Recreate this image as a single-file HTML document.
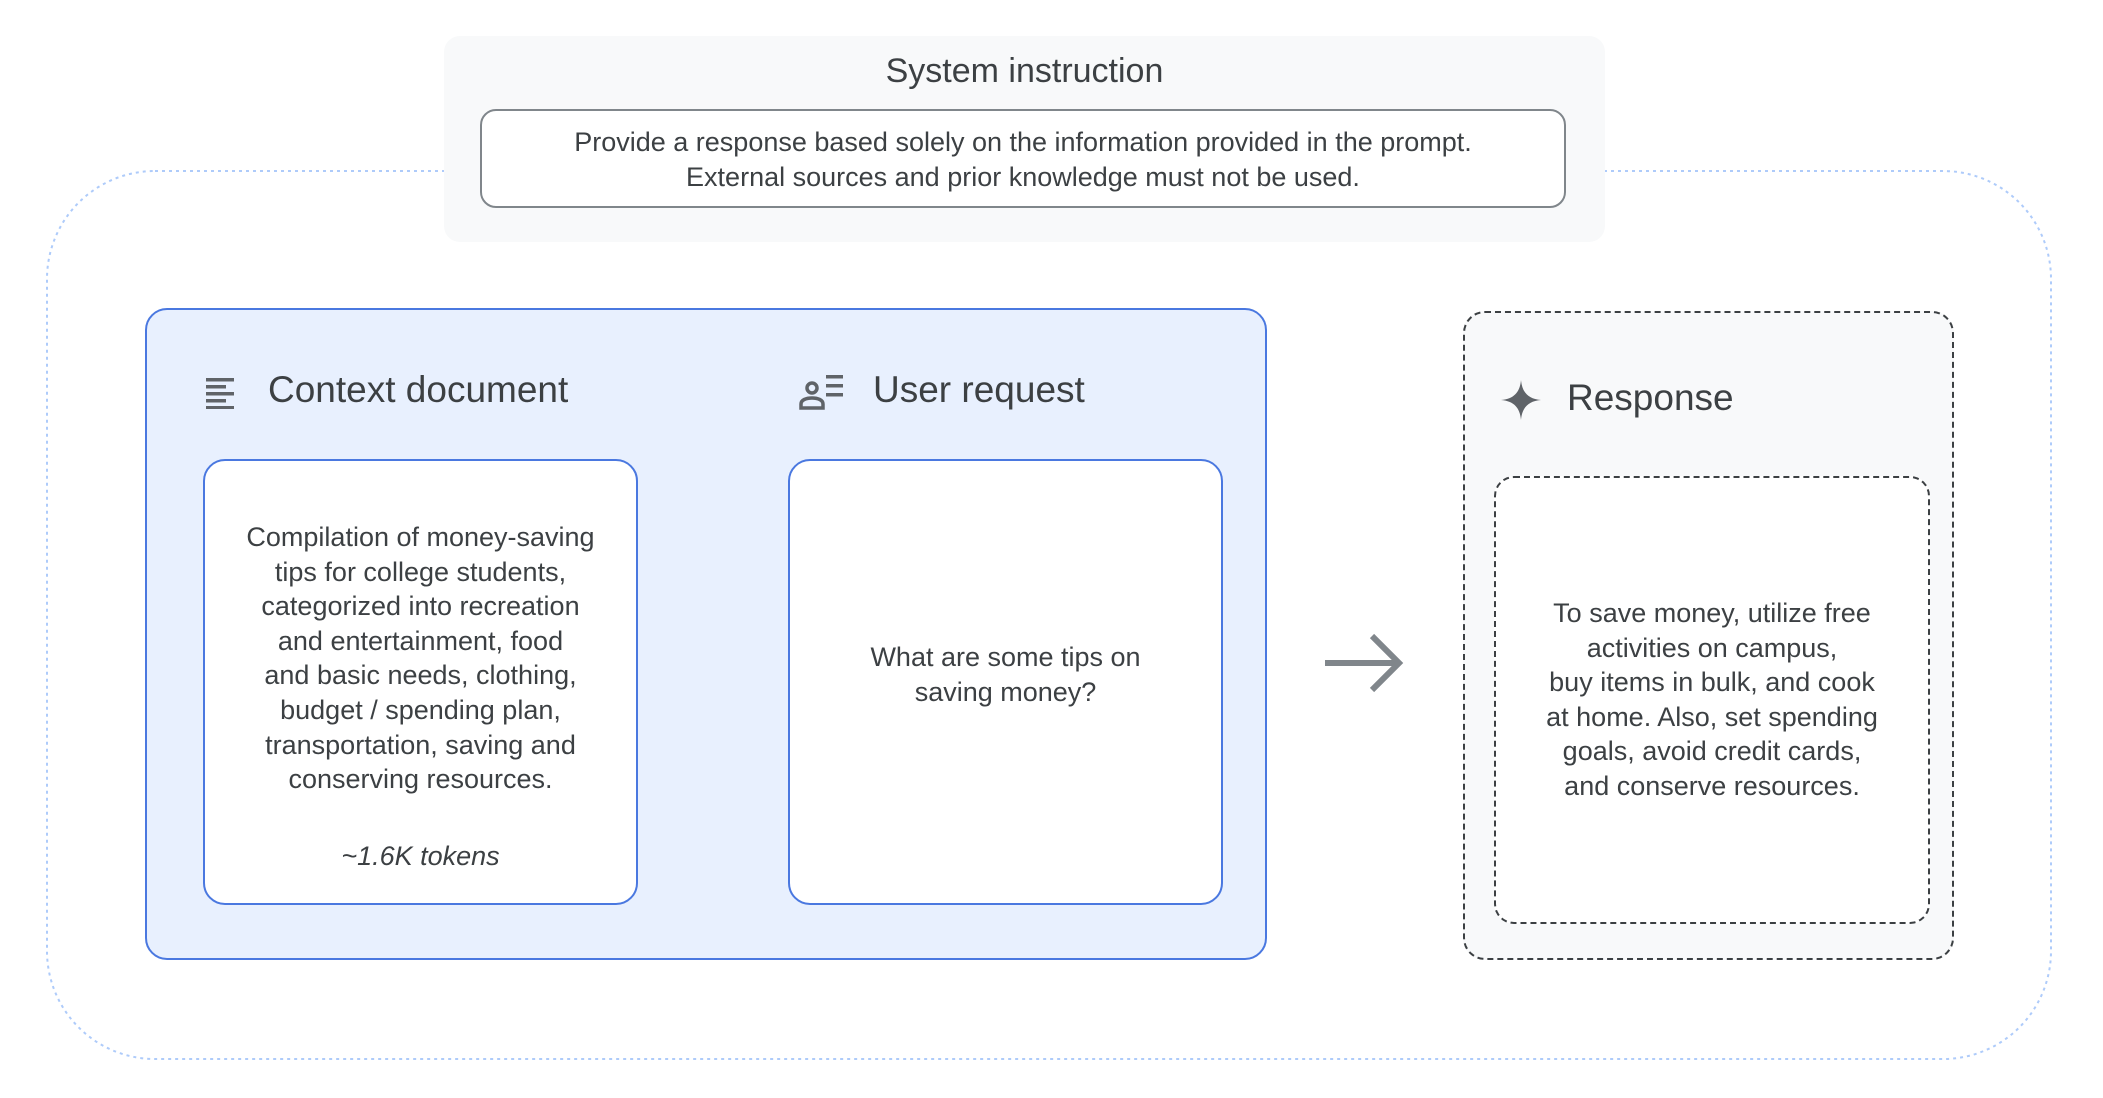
<!DOCTYPE html>
<html><head><meta charset="utf-8"><style>
body{margin:0;width:2103px;height:1098px;background:#fff;position:relative;overflow:hidden;font-family:"Liberation Sans",sans-serif;color:#3c4043}
.a{position:absolute}
.c{text-align:center;font-size:27px;line-height:34.6px;color:#3c4043}
</style></head><body>
<svg class="a" style="left:0;top:0" width="2103" height="1098">
<rect x="47" y="171" width="2004" height="888" rx="108" fill="none" stroke="#aecbfa" stroke-width="2" stroke-dasharray="3 4"/>
</svg>
<div class="a" style="left:444px;top:36px;width:1161px;height:206px;background:#f8f9fa;border-radius:16px"></div>
<div class="a" style="left:444px;top:52px;width:1161px;text-align:center;font-size:34px">System instruction</div>
<div class="a c" style="left:480px;top:109px;width:1086px;height:99px;border:2px solid #80868b;border-radius:16px;background:#fff;box-sizing:border-box;padding-top:14px;line-height:35px">Provide a response based solely on the information provided in the prompt.<br>External sources and prior knowledge must not be used.</div>

<div class="a" style="left:145px;top:308px;width:1122px;height:652px;background:#e8f0fe;border:2px solid #4a78e0;border-radius:22px;box-sizing:border-box"></div>
<svg class="a" style="left:204px;top:375px" width="36" height="34"><g fill="#5f6368"><rect x="2" y="3" width="28" height="3.5"/><rect x="2" y="10" width="20" height="3.5"/><rect x="2" y="17" width="28" height="3.5"/><rect x="2" y="24" width="20" height="3.5"/><rect x="2" y="31" width="28" height="3"/></g></svg>
<div class="a" style="left:268px;top:369px;font-size:37px">Context document</div>
<svg class="a" style="left:798px;top:372px" width="50" height="40"><g fill="none" stroke="#5f6368" stroke-width="3.5"><circle cx="14" cy="16" r="5"/><path d="M3 36v-4c0-4 5-6 11-6s11 2 11 6v4z"/></g><g fill="#5f6368"><rect x="28" y="3" width="17" height="3.5"/><rect x="28" y="12" width="17" height="3.5"/><rect x="28" y="21" width="17" height="3.5"/></g></svg>
<div class="a" style="left:873px;top:369px;font-size:37px">User request</div>

<div class="a" style="left:203px;top:459px;width:435px;height:446px;background:#fff;border:2px solid #4a78e0;border-radius:22px;box-sizing:border-box"></div>
<div class="a c" style="left:203px;top:520px;width:435px">Compilation of money-saving<br>tips for college students,<br>categorized into recreation<br>and entertainment, food<br>and basic needs, clothing,<br>budget / spending plan,<br>transportation, saving and<br>conserving resources.</div>
<div class="a c" style="left:203px;top:839px;width:435px;font-style:italic">~1.6K tokens</div>

<div class="a" style="left:788px;top:459px;width:435px;height:446px;background:#fff;border:2px solid #4a78e0;border-radius:22px;box-sizing:border-box"></div>
<div class="a c" style="left:788px;top:640px;width:435px">What are some tips on<br>saving money?</div>

<svg class="a" style="left:1320px;top:630px" width="90" height="70"><g fill="none" stroke="#80868b" stroke-width="6"><path d="M5 33h72"/><path d="M52 6l27 27-27 27"/></g></svg>

<div class="a" style="left:1463px;top:311px;width:491px;height:649px;background:#f8f9fa;border:2px dashed #3c4043;border-radius:22px;box-sizing:border-box"></div>
<svg class="a" style="left:1500px;top:379px" width="42" height="42"><path d="M21 1C22 13 28 20 41 21 28 22 22 29 21 41 20 29 14 22 1 21 14 20 20 13 21 1z" fill="#5f6368"/></svg>
<div class="a" style="left:1567px;top:377px;font-size:37px">Response</div>
<div class="a" style="left:1494px;top:476px;width:436px;height:448px;background:#fff;border:2px dashed #3c4043;border-radius:20px;box-sizing:border-box"></div>
<div class="a c" style="left:1494px;top:596px;width:436px">To save money, utilize free<br>activities on campus,<br>buy items in bulk, and cook<br>at home. Also, set spending<br>goals, avoid credit cards,<br>and conserve resources.</div>
</body></html>
